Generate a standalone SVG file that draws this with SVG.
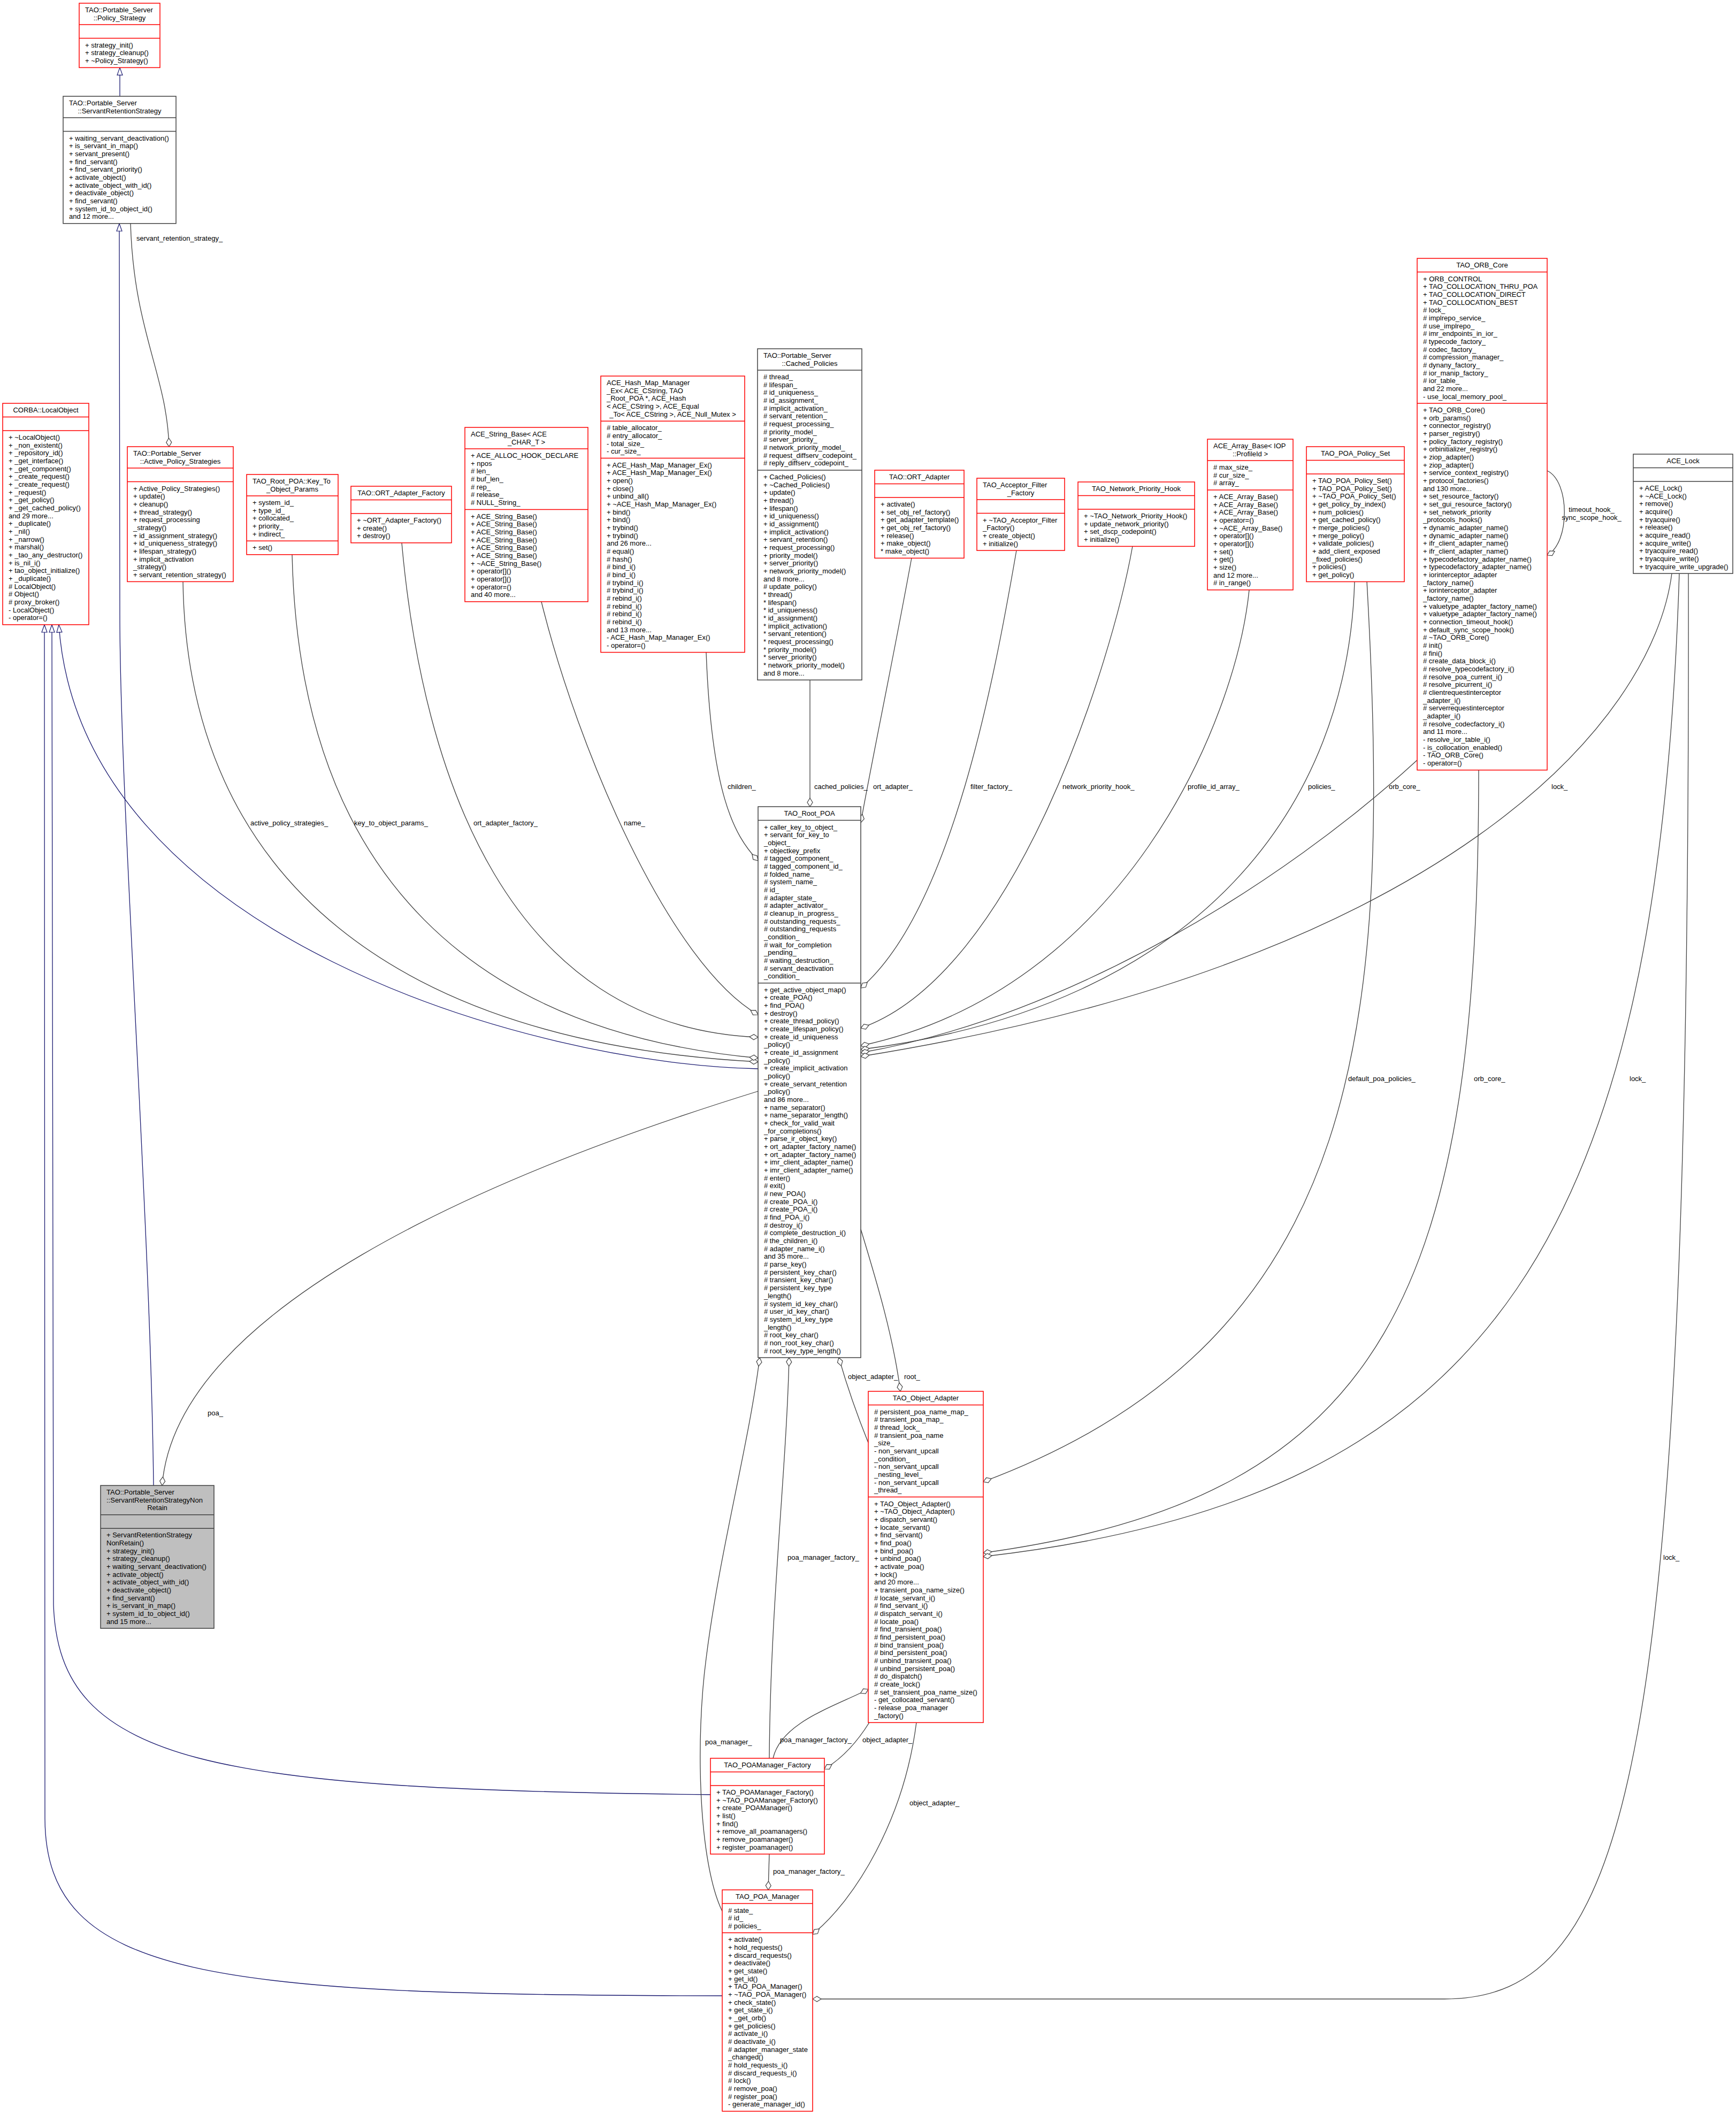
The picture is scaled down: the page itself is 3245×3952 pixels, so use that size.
<svg xmlns="http://www.w3.org/2000/svg" width="3245" height="3952" viewBox="0 0 3245 3952">
<defs>
<style>
text{font-family:"Liberation Sans",Arial,Helvetica,sans-serif;font-size:13px;fill:#000}
.c{text-anchor:middle}
.r{fill:#fff;stroke:#ff0000;stroke-width:1.5}
.k{fill:#fff;stroke:#404040;stroke-width:1.5}
.g{fill:#bfbfbf;stroke:#404040;stroke-width:1.5}
.dr{fill:none;stroke:#ff0000;stroke-width:1.5}
.dk{fill:none;stroke:#404040;stroke-width:1.5}
.e{fill:none;stroke:#404040;stroke-width:1.3}
.b{fill:none;stroke:#191970;stroke-width:1.3}
</style>
<marker id="tri" viewBox="0 0 16 12" refX="15" refY="6" markerWidth="16" markerHeight="12" markerUnits="userSpaceOnUse" orient="auto"><path d="M1,1 L15,6 L1,11 Z" fill="#fff" stroke="#191970" stroke-width="1.2"/></marker>
<marker id="dia" viewBox="0 0 18 12" refX="17" refY="6" markerWidth="18" markerHeight="12" markerUnits="userSpaceOnUse" orient="auto"><path d="M1,6 L9,1 L17,6 L9,11 Z" fill="#fff" stroke="#404040" stroke-width="1.2"/></marker>
</defs>
<rect width="3245" height="3952" fill="#fff"/>
<g id="connectors">
<path class="b" marker-end="url(#tri)" d="M224,180V126.4"/>
<path class="b" marker-end="url(#tri)" d="M287,2777C282,2300 224,1500 224,1150L223,418"/>
<path class="b" marker-end="url(#tri)" d="M1417,1998C1000,1990 150,1750 110,1168"/>
<path class="b" marker-end="url(#tri)" d="M1328,3355C400,3345 110,3300 100,3000L97,1168"/>
<path class="b" marker-end="url(#tri)" d="M1350,3731C400,3730 85,3700 84,3400L83,1168"/>
<path class="e" marker-end="url(#dia)" d="M244,418C250,620 312,700 316,835"/>
<path class="e" marker-end="url(#dia)" d="M342,1087C350,1650 750,1950 1417,1985"/>
<path class="e" marker-end="url(#dia)" d="M546,1037C560,1650 900,1930 1417,1978"/>
<path class="e" marker-end="url(#dia)" d="M751,1015C790,1450 950,1920 1417,1939"/>
<path class="e" marker-end="url(#dia)" d="M1012,1125C1080,1400 1250,1800 1417,1897"/>
<path class="e" marker-end="url(#dia)" d="M1320,1220C1330,1480 1370,1560 1417,1609"/>
<path class="e" marker-end="url(#dia)" d="M1514,1271L1514,1508"/>
<path class="e" marker-end="url(#dia)" d="M1704,1043C1670,1230 1630,1420 1609,1538"/>
<path class="e" marker-end="url(#dia)" d="M1900,1029C1860,1260 1780,1700 1609,1847"/>
<path class="e" marker-end="url(#dia)" d="M2117,1021C2080,1230 1900,1820 1609,1922"/>
<path class="e" marker-end="url(#dia)" d="M2335,1103C2310,1350 2100,1850 1609,1955"/>
<path class="e" marker-end="url(#dia)" d="M2532,1087C2520,1500 2250,1880 1609,1962"/>
<path class="e" marker-end="url(#dia)" d="M2649,1421C2400,1650 2000,1900 1609,1968"/>
<path class="e" marker-end="url(#dia)" d="M3125,1072C3090,1350 2700,1800 1609,1975"/>
<path class="e" marker-end="url(#dia)" d="M2892,880C2935,900 2935,1015 2892,1038"/>
<path class="e" marker-end="url(#dia)" d="M1417,2040C900,2200 330,2450 303,2777"/>
<path class="e" marker-end="url(#dia)" d="M2555,1087C2600,1900 2560,2500 1838,2770"/>
<path class="e" marker-end="url(#dia)" d="M2764,1440C2764,2400 2600,2800 1838,2903"/>
<path class="e" marker-end="url(#dia)" d="M3139,1072C3100,2300 2800,2800 1838,2910"/>
<path class="e" marker-end="url(#dia)" d="M3156,1072C3160,3300 3050,3737 2700,3737L1519,3737"/>
<path class="e" marker-end="url(#dia)" d="M1350,3573C1305,3480 1300,3250 1320,3100C1345,2900 1400,2700 1420,2538"/>
<path class="e" marker-end="url(#dia)" d="M1438,3287C1440,3000 1470,2750 1475,2538"/>
<path class="e" marker-end="url(#dia)" d="M1623,2697C1600,2640 1580,2580 1568,2538"/>
<path class="e" marker-end="url(#dia)" d="M1609,2298C1640,2400 1670,2500 1683,2601"/>
<path class="e" marker-end="url(#dia)" d="M1445,3287C1460,3220 1560,3190 1623,3158"/>
<path class="e" marker-end="url(#dia)" d="M1625,3220C1600,3260 1570,3290 1541,3307"/>
<path class="e" marker-end="url(#dia)" d="M1713,3220C1690,3400 1600,3550 1519,3616"/>
<path class="e" marker-end="url(#dia)" d="M1438,3466L1436,3533"/>
<text x="255" y="450">servant_retention_strategy_</text>
<text x="468" y="1543">active_policy_strategies_</text>
<text x="662" y="1543">key_to_object_params_</text>
<text x="885" y="1543">ort_adapter_factory_</text>
<text x="1166" y="1543">name_</text>
<text x="1360" y="1475">children_</text>
<text x="1522" y="1475">cached_policies_</text>
<text x="1632" y="1475">ort_adapter_</text>
<text x="1814" y="1475">filter_factory_</text>
<text x="1986" y="1475">network_priority_hook_</text>
<text x="2220" y="1475">profile_id_array_</text>
<text x="2445" y="1475">policies_</text>
<text x="2596" y="1475">orb_core_</text>
<text x="2900" y="1475">lock_</text>
<text class="c" x="2975" y="957">timeout_hook_</text>
<text class="c" x="2975" y="972">sync_scope_hook_</text>
<text x="388" y="2646">poa_</text>
<text x="1585" y="2578">object_adapter_</text>
<text x="1690" y="2578">root_</text>
<text x="2520" y="2021">default_poa_policies_</text>
<text x="2755" y="2021">orb_core_</text>
<text x="3046" y="2021">lock_</text>
<text x="1472" y="2916">poa_manager_factory_</text>
<text x="1318" y="3261">poa_manager_</text>
<text x="1458" y="3257">poa_manager_factory_</text>
<text x="1612" y="3257">object_adapter_</text>
<text x="1700" y="3375">object_adapter_</text>
<text x="1445" y="3503">poa_manager_factory_</text>
<text x="3109" y="2916">lock_</text>
</g>
<g id="policy_strategy">
<rect class="r" x="148" y="6" width="151" height="120.4"/>
<path class="dr" d="M148,46.1H299M148,71.6H299"/>
<text x="159" y="23">TAO::Portable_Server</text>
<text class="c" x="223.5" y="37.7">::Policy_Strategy</text>
<text y="88.6"><tspan x="159">+ strategy_init()</tspan><tspan x="159" dy="14.67">+ strategy_cleanup()</tspan><tspan x="159" dy="14.67">+ ~Policy_Strategy()</tspan></text>
</g>
<g id="servant_retention_strategy">
<rect class="k" x="118" y="180" width="211" height="237.8"/>
<path class="dk" d="M118,220.1H329M118,245.6H329"/>
<text x="129" y="197">TAO::Portable_Server</text>
<text class="c" x="223.5" y="211.7">::ServantRetentionStrategy</text>
<text y="262.6"><tspan x="129">+ waiting_servant_deactivation()</tspan><tspan x="129" dy="14.67">+ is_servant_in_map()</tspan><tspan x="129" dy="14.67">+ servant_present()</tspan><tspan x="129" dy="14.67">+ find_servant()</tspan><tspan x="129" dy="14.67">+ find_servant_priority()</tspan><tspan x="129" dy="14.67">+ activate_object()</tspan><tspan x="129" dy="14.67">+ activate_object_with_id()</tspan><tspan x="129" dy="14.67">+ deactivate_object()</tspan><tspan x="129" dy="14.67">+ find_servant()</tspan><tspan x="129" dy="14.67">+ system_id_to_object_id()</tspan><tspan x="129" dy="14.67">and 12 more...</tspan></text>
</g>
<g id="local_object">
<rect class="r" x="5" y="754" width="161" height="413.8"/>
<path class="dr" d="M5,779.5H166M5,804.9H166"/>
<text class="c" x="85.5" y="771">CORBA::LocalObject</text>
<text y="821.9"><tspan x="16">+ ~LocalObject()</tspan><tspan x="16" dy="14.67">+ _non_existent()</tspan><tspan x="16" dy="14.67">+ _repository_id()</tspan><tspan x="16" dy="14.67">+ _get_interface()</tspan><tspan x="16" dy="14.67">+ _get_component()</tspan><tspan x="16" dy="14.67">+ _create_request()</tspan><tspan x="16" dy="14.67">+ _create_request()</tspan><tspan x="16" dy="14.67">+ _request()</tspan><tspan x="16" dy="14.67">+ _get_policy()</tspan><tspan x="16" dy="14.67">+ _get_cached_policy()</tspan><tspan x="16" dy="14.67">and 29 more...</tspan><tspan x="16" dy="14.67">+ _duplicate()</tspan><tspan x="16" dy="14.67">+ _nil()</tspan><tspan x="16" dy="14.67">+ _narrow()</tspan><tspan x="16" dy="14.67">+ marshal()</tspan><tspan x="16" dy="14.67">+ _tao_any_destructor()</tspan><tspan x="16" dy="14.67">+ is_nil_i()</tspan><tspan x="16" dy="14.67">+ tao_object_initialize()</tspan><tspan x="16" dy="14.67">+ _duplicate()</tspan><tspan x="16" dy="14.67"># LocalObject()</tspan><tspan x="16" dy="14.67"># Object()</tspan><tspan x="16" dy="14.67"># proxy_broker()</tspan><tspan x="16" dy="14.67">- LocalObject()</tspan><tspan x="16" dy="14.67">- operator=()</tspan></text>
</g>
<g id="active_policy_strategies">
<rect class="r" x="238" y="835" width="198" height="252.4"/>
<path class="dr" d="M238,875.1H436M238,900.6H436"/>
<text x="249" y="852">TAO::Portable_Server</text>
<text class="c" x="337" y="866.7">::Active_Policy_Strategies</text>
<text y="917.6"><tspan x="249">+ Active_Policy_Strategies()</tspan><tspan x="249" dy="14.67">+ update()</tspan><tspan x="249" dy="14.67">+ cleanup()</tspan><tspan x="249" dy="14.67">+ thread_strategy()</tspan><tspan x="249" dy="14.67">+ request_processing</tspan><tspan x="249" dy="14.67">_strategy()</tspan><tspan x="249" dy="14.67">+ id_assignment_strategy()</tspan><tspan x="249" dy="14.67">+ id_uniqueness_strategy()</tspan><tspan x="249" dy="14.67">+ lifespan_strategy()</tspan><tspan x="249" dy="14.67">+ implicit_activation</tspan><tspan x="249" dy="14.67">_strategy()</tspan><tspan x="249" dy="14.67">+ servant_retention_strategy()</tspan></text>
</g>
<g id="key_to_object_params">
<rect class="r" x="461" y="887" width="171" height="149.8"/>
<path class="dr" d="M461,927.1H632M461,1011.3H632"/>
<text x="472" y="904">TAO_Root_POA::Key_To</text>
<text class="c" x="546.5" y="918.7">_Object_Params</text>
<text y="944.1"><tspan x="472">+ system_id_</tspan><tspan x="472" dy="14.67">+ type_id_</tspan><tspan x="472" dy="14.67">+ collocated_</tspan><tspan x="472" dy="14.67">+ priority_</tspan><tspan x="472" dy="14.67">+ indirect_</tspan></text>
<text x="472" y="1028.3">+ set()</text>
</g>
<g id="ort_adapter_factory">
<rect class="r" x="656" y="909" width="188" height="105.8"/>
<path class="dr" d="M656,934.5H844M656,959.9H844"/>
<text class="c" x="750" y="926">TAO::ORT_Adapter_Factory</text>
<text y="976.9"><tspan x="667">+ ~ORT_Adapter_Factory()</tspan><tspan x="667" dy="14.67">+ create()</tspan><tspan x="667" dy="14.67">+ destroy()</tspan></text>
</g>
<g id="ace_string_base">
<rect class="r" x="869" y="799" width="230" height="325.8"/>
<path class="dr" d="M869,839.1H1099M869,952.6H1099"/>
<text x="880" y="816">ACE_String_Base&lt; ACE</text>
<text class="c" x="984" y="830.7">_CHAR_T &gt;</text>
<text y="856.1"><tspan x="880">+ ACE_ALLOC_HOOK_DECLARE</tspan><tspan x="880" dy="14.67">+ npos</tspan><tspan x="880" dy="14.67"># len_</tspan><tspan x="880" dy="14.67"># buf_len_</tspan><tspan x="880" dy="14.67"># rep_</tspan><tspan x="880" dy="14.67"># release_</tspan><tspan x="880" dy="14.67"># NULL_String_</tspan></text>
<text y="969.6"><tspan x="880">+ ACE_String_Base()</tspan><tspan x="880" dy="14.67">+ ACE_String_Base()</tspan><tspan x="880" dy="14.67">+ ACE_String_Base()</tspan><tspan x="880" dy="14.67">+ ACE_String_Base()</tspan><tspan x="880" dy="14.67">+ ACE_String_Base()</tspan><tspan x="880" dy="14.67">+ ACE_String_Base()</tspan><tspan x="880" dy="14.67">+ ~ACE_String_Base()</tspan><tspan x="880" dy="14.67">+ operator[]()</tspan><tspan x="880" dy="14.67">+ operator[]()</tspan><tspan x="880" dy="14.67">+ operator=()</tspan><tspan x="880" dy="14.67">and 40 more...</tspan></text>
</g>
<g id="ace_hash_map_manager_ex">
<rect class="r" x="1123" y="703" width="269" height="516.5"/>
<path class="dr" d="M1123,787.2H1392M1123,856.6H1392"/>
<text y="720"><tspan x="1134">ACE_Hash_Map_Manager</tspan><tspan x="1134" dy="14.67">_Ex&lt; ACE_CString, TAO</tspan><tspan x="1134" dy="14.67">_Root_POA *, ACE_Hash</tspan><tspan x="1134" dy="14.67">&lt; ACE_CString &gt;, ACE_Equal</tspan></text>
<text class="c" x="1257.5" y="778.7">_To&lt; ACE_CString &gt;, ACE_Null_Mutex &gt;</text>
<text y="804.2"><tspan x="1134"># table_allocator_</tspan><tspan x="1134" dy="14.67"># entry_allocator_</tspan><tspan x="1134" dy="14.67">- total_size_</tspan><tspan x="1134" dy="14.67">- cur_size_</tspan></text>
<text y="873.6"><tspan x="1134">+ ACE_Hash_Map_Manager_Ex()</tspan><tspan x="1134" dy="14.67">+ ACE_Hash_Map_Manager_Ex()</tspan><tspan x="1134" dy="14.67">+ open()</tspan><tspan x="1134" dy="14.67">+ close()</tspan><tspan x="1134" dy="14.67">+ unbind_all()</tspan><tspan x="1134" dy="14.67">+ ~ACE_Hash_Map_Manager_Ex()</tspan><tspan x="1134" dy="14.67">+ bind()</tspan><tspan x="1134" dy="14.67">+ bind()</tspan><tspan x="1134" dy="14.67">+ trybind()</tspan><tspan x="1134" dy="14.67">+ trybind()</tspan><tspan x="1134" dy="14.67">and 26 more...</tspan><tspan x="1134" dy="14.67"># equal()</tspan><tspan x="1134" dy="14.67"># hash()</tspan><tspan x="1134" dy="14.67"># bind_i()</tspan><tspan x="1134" dy="14.67"># bind_i()</tspan><tspan x="1134" dy="14.67"># trybind_i()</tspan><tspan x="1134" dy="14.67"># trybind_i()</tspan><tspan x="1134" dy="14.67"># rebind_i()</tspan><tspan x="1134" dy="14.67"># rebind_i()</tspan><tspan x="1134" dy="14.67"># rebind_i()</tspan><tspan x="1134" dy="14.67"># rebind_i()</tspan><tspan x="1134" dy="14.67">and 13 more...</tspan><tspan x="1134" dy="14.67">- ACE_Hash_Map_Manager_Ex()</tspan><tspan x="1134" dy="14.67">- operator=()</tspan></text>
</g>
<g id="cached_policies">
<rect class="k" x="1416" y="652" width="195" height="619.2"/>
<path class="dk" d="M1416,692.1H1611M1416,879H1611"/>
<text x="1427" y="669">TAO::Portable_Server</text>
<text class="c" x="1513.5" y="683.7">::Cached_Policies</text>
<text y="709.1"><tspan x="1427"># thread_</tspan><tspan x="1427" dy="14.67"># lifespan_</tspan><tspan x="1427" dy="14.67"># id_uniqueness_</tspan><tspan x="1427" dy="14.67"># id_assignment_</tspan><tspan x="1427" dy="14.67"># implicit_activation_</tspan><tspan x="1427" dy="14.67"># servant_retention_</tspan><tspan x="1427" dy="14.67"># request_processing_</tspan><tspan x="1427" dy="14.67"># priority_model_</tspan><tspan x="1427" dy="14.67"># server_priority_</tspan><tspan x="1427" dy="14.67"># network_priority_model_</tspan><tspan x="1427" dy="14.67"># request_diffserv_codepoint_</tspan><tspan x="1427" dy="14.67"># reply_diffserv_codepoint_</tspan></text>
<text y="896"><tspan x="1427">+ Cached_Policies()</tspan><tspan x="1427" dy="14.67">+ ~Cached_Policies()</tspan><tspan x="1427" dy="14.67">+ update()</tspan><tspan x="1427" dy="14.67">+ thread()</tspan><tspan x="1427" dy="14.67">+ lifespan()</tspan><tspan x="1427" dy="14.67">+ id_uniqueness()</tspan><tspan x="1427" dy="14.67">+ id_assignment()</tspan><tspan x="1427" dy="14.67">+ implicit_activation()</tspan><tspan x="1427" dy="14.67">+ servant_retention()</tspan><tspan x="1427" dy="14.67">+ request_processing()</tspan><tspan x="1427" dy="14.67">+ priority_model()</tspan><tspan x="1427" dy="14.67">+ server_priority()</tspan><tspan x="1427" dy="14.67">+ network_priority_model()</tspan><tspan x="1427" dy="14.67">and 8 more...</tspan><tspan x="1427" dy="14.67"># update_policy()</tspan><tspan x="1427" dy="14.67">* thread()</tspan><tspan x="1427" dy="14.67">* lifespan()</tspan><tspan x="1427" dy="14.67">* id_uniqueness()</tspan><tspan x="1427" dy="14.67">* id_assignment()</tspan><tspan x="1427" dy="14.67">* implicit_activation()</tspan><tspan x="1427" dy="14.67">* servant_retention()</tspan><tspan x="1427" dy="14.67">* request_processing()</tspan><tspan x="1427" dy="14.67">* priority_model()</tspan><tspan x="1427" dy="14.67">* server_priority()</tspan><tspan x="1427" dy="14.67">* network_priority_model()</tspan><tspan x="1427" dy="14.67">and 8 more...</tspan></text>
</g>
<g id="ort_adapter">
<rect class="r" x="1635" y="879" width="167" height="164.4"/>
<path class="dr" d="M1635,904.5H1802M1635,929.9H1802"/>
<text class="c" x="1718.5" y="896">TAO::ORT_Adapter</text>
<text y="946.9"><tspan x="1646">+ activate()</tspan><tspan x="1646" dy="14.67">+ set_obj_ref_factory()</tspan><tspan x="1646" dy="14.67">+ get_adapter_template()</tspan><tspan x="1646" dy="14.67">+ get_obj_ref_factory()</tspan><tspan x="1646" dy="14.67">+ release()</tspan><tspan x="1646" dy="14.67">+ make_object()</tspan><tspan x="1646" dy="14.67">* make_object()</tspan></text>
</g>
<g id="acceptor_filter_factory">
<rect class="r" x="1826" y="894" width="164" height="135.1"/>
<path class="dr" d="M1826,934.1H1990M1826,959.6H1990"/>
<text x="1837" y="911">TAO_Acceptor_Filter</text>
<text class="c" x="1908" y="925.7">_Factory</text>
<text y="976.6"><tspan x="1837">+ ~TAO_Acceptor_Filter</tspan><tspan x="1837" dy="14.67">_Factory()</tspan><tspan x="1837" dy="14.67">+ create_object()</tspan><tspan x="1837" dy="14.67">+ initialize()</tspan></text>
</g>
<g id="network_priority_hook">
<rect class="r" x="2015" y="901" width="218" height="120.4"/>
<path class="dr" d="M2015,926.5H2233M2015,951.9H2233"/>
<text class="c" x="2124" y="918">TAO_Network_Priority_Hook</text>
<text y="968.9"><tspan x="2026">+ ~TAO_Network_Priority_Hook()</tspan><tspan x="2026" dy="14.67">+ update_network_priority()</tspan><tspan x="2026" dy="14.67">+ set_dscp_codepoint()</tspan><tspan x="2026" dy="14.67">+ initialize()</tspan></text>
</g>
<g id="ace_array_base">
<rect class="r" x="2257" y="821" width="160" height="281.8"/>
<path class="dr" d="M2257,861.1H2417M2257,916H2417"/>
<text x="2268" y="838">ACE_Array_Base&lt; IOP</text>
<text class="c" x="2337" y="852.7">::ProfileId &gt;</text>
<text y="878.1"><tspan x="2268"># max_size_</tspan><tspan x="2268" dy="14.67"># cur_size_</tspan><tspan x="2268" dy="14.67"># array_</tspan></text>
<text y="933"><tspan x="2268">+ ACE_Array_Base()</tspan><tspan x="2268" dy="14.67">+ ACE_Array_Base()</tspan><tspan x="2268" dy="14.67">+ ACE_Array_Base()</tspan><tspan x="2268" dy="14.67">+ operator=()</tspan><tspan x="2268" dy="14.67">+ ~ACE_Array_Base()</tspan><tspan x="2268" dy="14.67">+ operator[]()</tspan><tspan x="2268" dy="14.67">+ operator[]()</tspan><tspan x="2268" dy="14.67">+ set()</tspan><tspan x="2268" dy="14.67">+ get()</tspan><tspan x="2268" dy="14.67">+ size()</tspan><tspan x="2268" dy="14.67">and 12 more...</tspan><tspan x="2268" dy="14.67"># in_range()</tspan></text>
</g>
<g id="poa_policy_set">
<rect class="r" x="2442" y="835" width="183" height="252.5"/>
<path class="dr" d="M2442,860.5H2625M2442,885.9H2625"/>
<text class="c" x="2533.5" y="852">TAO_POA_Policy_Set</text>
<text y="902.9"><tspan x="2453">+ TAO_POA_Policy_Set()</tspan><tspan x="2453" dy="14.67">+ TAO_POA_Policy_Set()</tspan><tspan x="2453" dy="14.67">+ ~TAO_POA_Policy_Set()</tspan><tspan x="2453" dy="14.67">+ get_policy_by_index()</tspan><tspan x="2453" dy="14.67">+ num_policies()</tspan><tspan x="2453" dy="14.67">+ get_cached_policy()</tspan><tspan x="2453" dy="14.67">+ merge_policies()</tspan><tspan x="2453" dy="14.67">+ merge_policy()</tspan><tspan x="2453" dy="14.67">+ validate_policies()</tspan><tspan x="2453" dy="14.67">+ add_client_exposed</tspan><tspan x="2453" dy="14.67">_fixed_policies()</tspan><tspan x="2453" dy="14.67">+ policies()</tspan><tspan x="2453" dy="14.67">+ get_policy()</tspan></text>
</g>
<g id="orb_core">
<rect class="r" x="2649" y="483" width="243" height="956.6"/>
<path class="dr" d="M2649,508.5H2892M2649,754H2892"/>
<text class="c" x="2770.5" y="500">TAO_ORB_Core</text>
<text y="525.5"><tspan x="2660">+ ORB_CONTROL</tspan><tspan x="2660" dy="14.67">+ TAO_COLLOCATION_THRU_POA</tspan><tspan x="2660" dy="14.67">+ TAO_COLLOCATION_DIRECT</tspan><tspan x="2660" dy="14.67">+ TAO_COLLOCATION_BEST</tspan><tspan x="2660" dy="14.67"># lock_</tspan><tspan x="2660" dy="14.67"># implrepo_service_</tspan><tspan x="2660" dy="14.67"># use_implrepo_</tspan><tspan x="2660" dy="14.67"># imr_endpoints_in_ior_</tspan><tspan x="2660" dy="14.67"># typecode_factory_</tspan><tspan x="2660" dy="14.67"># codec_factory_</tspan><tspan x="2660" dy="14.67"># compression_manager_</tspan><tspan x="2660" dy="14.67"># dynany_factory_</tspan><tspan x="2660" dy="14.67"># ior_manip_factory_</tspan><tspan x="2660" dy="14.67"># ior_table_</tspan><tspan x="2660" dy="14.67">and 22 more...</tspan><tspan x="2660" dy="14.67">- use_local_memory_pool_</tspan></text>
<text y="771"><tspan x="2660">+ TAO_ORB_Core()</tspan><tspan x="2660" dy="14.67">+ orb_params()</tspan><tspan x="2660" dy="14.67">+ connector_registry()</tspan><tspan x="2660" dy="14.67">+ parser_registry()</tspan><tspan x="2660" dy="14.67">+ policy_factory_registry()</tspan><tspan x="2660" dy="14.67">+ orbinitializer_registry()</tspan><tspan x="2660" dy="14.67">+ ziop_adapter()</tspan><tspan x="2660" dy="14.67">+ ziop_adapter()</tspan><tspan x="2660" dy="14.67">+ service_context_registry()</tspan><tspan x="2660" dy="14.67">+ protocol_factories()</tspan><tspan x="2660" dy="14.67">and 130 more...</tspan><tspan x="2660" dy="14.67">+ set_resource_factory()</tspan><tspan x="2660" dy="14.67">+ set_gui_resource_factory()</tspan><tspan x="2660" dy="14.67">+ set_network_priority</tspan><tspan x="2660" dy="14.67">_protocols_hooks()</tspan><tspan x="2660" dy="14.67">+ dynamic_adapter_name()</tspan><tspan x="2660" dy="14.67">+ dynamic_adapter_name()</tspan><tspan x="2660" dy="14.67">+ ifr_client_adapter_name()</tspan><tspan x="2660" dy="14.67">+ ifr_client_adapter_name()</tspan><tspan x="2660" dy="14.67">+ typecodefactory_adapter_name()</tspan><tspan x="2660" dy="14.67">+ typecodefactory_adapter_name()</tspan><tspan x="2660" dy="14.67">+ iorinterceptor_adapter</tspan><tspan x="2660" dy="14.67">_factory_name()</tspan><tspan x="2660" dy="14.67">+ iorinterceptor_adapter</tspan><tspan x="2660" dy="14.67">_factory_name()</tspan><tspan x="2660" dy="14.67">+ valuetype_adapter_factory_name()</tspan><tspan x="2660" dy="14.67">+ valuetype_adapter_factory_name()</tspan><tspan x="2660" dy="14.67">+ connection_timeout_hook()</tspan><tspan x="2660" dy="14.67">+ default_sync_scope_hook()</tspan><tspan x="2660" dy="14.67"># ~TAO_ORB_Core()</tspan><tspan x="2660" dy="14.67"># init()</tspan><tspan x="2660" dy="14.67"># fini()</tspan><tspan x="2660" dy="14.67"># create_data_block_i()</tspan><tspan x="2660" dy="14.67"># resolve_typecodefactory_i()</tspan><tspan x="2660" dy="14.67"># resolve_poa_current_i()</tspan><tspan x="2660" dy="14.67"># resolve_picurrent_i()</tspan><tspan x="2660" dy="14.67"># clientrequestinterceptor</tspan><tspan x="2660" dy="14.67">_adapter_i()</tspan><tspan x="2660" dy="14.67"># serverrequestinterceptor</tspan><tspan x="2660" dy="14.67">_adapter_i()</tspan><tspan x="2660" dy="14.67"># resolve_codecfactory_i()</tspan><tspan x="2660" dy="14.67">and 11 more...</tspan><tspan x="2660" dy="14.67">- resolve_ior_table_i()</tspan><tspan x="2660" dy="14.67">- is_collocation_enabled()</tspan><tspan x="2660" dy="14.67">- TAO_ORB_Core()</tspan><tspan x="2660" dy="14.67">- operator=()</tspan></text>
</g>
<g id="ace_lock">
<rect class="k" x="3053" y="849" width="186" height="223.1"/>
<path class="dk" d="M3053,874.5H3239M3053,899.9H3239"/>
<text class="c" x="3146" y="866">ACE_Lock</text>
<text y="916.9"><tspan x="3064">+ ACE_Lock()</tspan><tspan x="3064" dy="14.67">+ ~ACE_Lock()</tspan><tspan x="3064" dy="14.67">+ remove()</tspan><tspan x="3064" dy="14.67">+ acquire()</tspan><tspan x="3064" dy="14.67">+ tryacquire()</tspan><tspan x="3064" dy="14.67">+ release()</tspan><tspan x="3064" dy="14.67">+ acquire_read()</tspan><tspan x="3064" dy="14.67">+ acquire_write()</tspan><tspan x="3064" dy="14.67">+ tryacquire_read()</tspan><tspan x="3064" dy="14.67">+ tryacquire_write()</tspan><tspan x="3064" dy="14.67">+ tryacquire_write_upgrade()</tspan></text>
</g>
<g id="root_poa">
<rect class="k" x="1417" y="1508" width="192" height="1030"/>
<path class="dk" d="M1417,1533.5H1609M1417,1837.7H1609"/>
<text class="c" x="1513" y="1525">TAO_Root_POA</text>
<text y="1550.5"><tspan x="1428">+ caller_key_to_object_</tspan><tspan x="1428" dy="14.67">+ servant_for_key_to</tspan><tspan x="1428" dy="14.67">_object_</tspan><tspan x="1428" dy="14.67">+ objectkey_prefix</tspan><tspan x="1428" dy="14.67"># tagged_component_</tspan><tspan x="1428" dy="14.67"># tagged_component_id_</tspan><tspan x="1428" dy="14.67"># folded_name_</tspan><tspan x="1428" dy="14.67"># system_name_</tspan><tspan x="1428" dy="14.67"># id_</tspan><tspan x="1428" dy="14.67"># adapter_state_</tspan><tspan x="1428" dy="14.67"># adapter_activator_</tspan><tspan x="1428" dy="14.67"># cleanup_in_progress_</tspan><tspan x="1428" dy="14.67"># outstanding_requests_</tspan><tspan x="1428" dy="14.67"># outstanding_requests</tspan><tspan x="1428" dy="14.67">_condition_</tspan><tspan x="1428" dy="14.67"># wait_for_completion</tspan><tspan x="1428" dy="14.67">_pending_</tspan><tspan x="1428" dy="14.67"># waiting_destruction_</tspan><tspan x="1428" dy="14.67"># servant_deactivation</tspan><tspan x="1428" dy="14.67">_condition_</tspan></text>
<text y="1854.7"><tspan x="1428">+ get_active_object_map()</tspan><tspan x="1428" dy="14.67">+ create_POA()</tspan><tspan x="1428" dy="14.67">+ find_POA()</tspan><tspan x="1428" dy="14.67">+ destroy()</tspan><tspan x="1428" dy="14.67">+ create_thread_policy()</tspan><tspan x="1428" dy="14.67">+ create_lifespan_policy()</tspan><tspan x="1428" dy="14.67">+ create_id_uniqueness</tspan><tspan x="1428" dy="14.67">_policy()</tspan><tspan x="1428" dy="14.67">+ create_id_assignment</tspan><tspan x="1428" dy="14.67">_policy()</tspan><tspan x="1428" dy="14.67">+ create_implicit_activation</tspan><tspan x="1428" dy="14.67">_policy()</tspan><tspan x="1428" dy="14.67">+ create_servant_retention</tspan><tspan x="1428" dy="14.67">_policy()</tspan><tspan x="1428" dy="14.67">and 86 more...</tspan><tspan x="1428" dy="14.67">+ name_separator()</tspan><tspan x="1428" dy="14.67">+ name_separator_length()</tspan><tspan x="1428" dy="14.67">+ check_for_valid_wait</tspan><tspan x="1428" dy="14.67">_for_completions()</tspan><tspan x="1428" dy="14.67">+ parse_ir_object_key()</tspan><tspan x="1428" dy="14.67">+ ort_adapter_factory_name()</tspan><tspan x="1428" dy="14.67">+ ort_adapter_factory_name()</tspan><tspan x="1428" dy="14.67">+ imr_client_adapter_name()</tspan><tspan x="1428" dy="14.67">+ imr_client_adapter_name()</tspan><tspan x="1428" dy="14.67"># enter()</tspan><tspan x="1428" dy="14.67"># exit()</tspan><tspan x="1428" dy="14.67"># new_POA()</tspan><tspan x="1428" dy="14.67"># create_POA_i()</tspan><tspan x="1428" dy="14.67"># create_POA_i()</tspan><tspan x="1428" dy="14.67"># find_POA_i()</tspan><tspan x="1428" dy="14.67"># destroy_i()</tspan><tspan x="1428" dy="14.67"># complete_destruction_i()</tspan><tspan x="1428" dy="14.67"># the_children_i()</tspan><tspan x="1428" dy="14.67"># adapter_name_i()</tspan><tspan x="1428" dy="14.67">and 35 more...</tspan><tspan x="1428" dy="14.67"># parse_key()</tspan><tspan x="1428" dy="14.67"># persistent_key_char()</tspan><tspan x="1428" dy="14.67"># transient_key_char()</tspan><tspan x="1428" dy="14.67"># persistent_key_type</tspan><tspan x="1428" dy="14.67">_length()</tspan><tspan x="1428" dy="14.67"># system_id_key_char()</tspan><tspan x="1428" dy="14.67"># user_id_key_char()</tspan><tspan x="1428" dy="14.67"># system_id_key_type</tspan><tspan x="1428" dy="14.67">_length()</tspan><tspan x="1428" dy="14.67"># root_key_char()</tspan><tspan x="1428" dy="14.67"># non_root_key_char()</tspan><tspan x="1428" dy="14.67"># root_key_type_length()</tspan></text>
</g>
<g id="object_adapter">
<rect class="r" x="1623" y="2601" width="215" height="619.3"/>
<path class="dr" d="M1623,2626.5H1838M1623,2798.6H1838"/>
<text class="c" x="1730.5" y="2618">TAO_Object_Adapter</text>
<text y="2643.5"><tspan x="1634"># persistent_poa_name_map_</tspan><tspan x="1634" dy="14.67"># transient_poa_map_</tspan><tspan x="1634" dy="14.67"># thread_lock_</tspan><tspan x="1634" dy="14.67"># transient_poa_name</tspan><tspan x="1634" dy="14.67">_size_</tspan><tspan x="1634" dy="14.67">- non_servant_upcall</tspan><tspan x="1634" dy="14.67">_condition_</tspan><tspan x="1634" dy="14.67">- non_servant_upcall</tspan><tspan x="1634" dy="14.67">_nesting_level_</tspan><tspan x="1634" dy="14.67">- non_servant_upcall</tspan><tspan x="1634" dy="14.67">_thread_</tspan></text>
<text y="2815.6"><tspan x="1634">+ TAO_Object_Adapter()</tspan><tspan x="1634" dy="14.67">+ ~TAO_Object_Adapter()</tspan><tspan x="1634" dy="14.67">+ dispatch_servant()</tspan><tspan x="1634" dy="14.67">+ locate_servant()</tspan><tspan x="1634" dy="14.67">+ find_servant()</tspan><tspan x="1634" dy="14.67">+ find_poa()</tspan><tspan x="1634" dy="14.67">+ bind_poa()</tspan><tspan x="1634" dy="14.67">+ unbind_poa()</tspan><tspan x="1634" dy="14.67">+ activate_poa()</tspan><tspan x="1634" dy="14.67">+ lock()</tspan><tspan x="1634" dy="14.67">and 20 more...</tspan><tspan x="1634" dy="14.67">+ transient_poa_name_size()</tspan><tspan x="1634" dy="14.67"># locate_servant_i()</tspan><tspan x="1634" dy="14.67"># find_servant_i()</tspan><tspan x="1634" dy="14.67"># dispatch_servant_i()</tspan><tspan x="1634" dy="14.67"># locate_poa()</tspan><tspan x="1634" dy="14.67"># find_transient_poa()</tspan><tspan x="1634" dy="14.67"># find_persistent_poa()</tspan><tspan x="1634" dy="14.67"># bind_transient_poa()</tspan><tspan x="1634" dy="14.67"># bind_persistent_poa()</tspan><tspan x="1634" dy="14.67"># unbind_transient_poa()</tspan><tspan x="1634" dy="14.67"># unbind_persistent_poa()</tspan><tspan x="1634" dy="14.67"># do_dispatch()</tspan><tspan x="1634" dy="14.67"># create_lock()</tspan><tspan x="1634" dy="14.67"># set_transient_poa_name_size()</tspan><tspan x="1634" dy="14.67">- get_collocated_servant()</tspan><tspan x="1634" dy="14.67">- release_poa_manager</tspan><tspan x="1634" dy="14.67">_factory()</tspan></text>
</g>
<g id="servant_retention_strategy_non_retain">
<rect class="g" x="188" y="2777" width="212" height="267.1"/>
<path class="dk" d="M188,2831.8H400M188,2857.3H400"/>
<text y="2794"><tspan x="199">TAO::Portable_Server</tspan><tspan x="199" dy="14.67">::ServantRetentionStrategyNon</tspan></text>
<text class="c" x="294" y="2823.3">Retain</text>
<text y="2874.3"><tspan x="199">+ ServantRetentionStrategy</tspan><tspan x="199" dy="14.67">NonRetain()</tspan><tspan x="199" dy="14.67">+ strategy_init()</tspan><tspan x="199" dy="14.67">+ strategy_cleanup()</tspan><tspan x="199" dy="14.67">+ waiting_servant_deactivation()</tspan><tspan x="199" dy="14.67">+ activate_object()</tspan><tspan x="199" dy="14.67">+ activate_object_with_id()</tspan><tspan x="199" dy="14.67">+ deactivate_object()</tspan><tspan x="199" dy="14.67">+ find_servant()</tspan><tspan x="199" dy="14.67">+ is_servant_in_map()</tspan><tspan x="199" dy="14.67">+ system_id_to_object_id()</tspan><tspan x="199" dy="14.67">and 15 more...</tspan></text>
</g>
<g id="poamanager_factory">
<rect class="r" x="1328" y="3287" width="213" height="179.1"/>
<path class="dr" d="M1328,3312.5H1541M1328,3337.9H1541"/>
<text class="c" x="1434.5" y="3304">TAO_POAManager_Factory</text>
<text y="3354.9"><tspan x="1339">+ TAO_POAManager_Factory()</tspan><tspan x="1339" dy="14.67">+ ~TAO_POAManager_Factory()</tspan><tspan x="1339" dy="14.67">+ create_POAManager()</tspan><tspan x="1339" dy="14.67">+ list()</tspan><tspan x="1339" dy="14.67">+ find()</tspan><tspan x="1339" dy="14.67">+ remove_all_poamanagers()</tspan><tspan x="1339" dy="14.67">+ remove_poamanager()</tspan><tspan x="1339" dy="14.67">+ register_poamanager()</tspan></text>
</g>
<g id="poa_manager">
<rect class="r" x="1350" y="3533" width="169" height="413.8"/>
<path class="dr" d="M1350,3558.5H1519M1350,3613.3H1519"/>
<text class="c" x="1434.5" y="3550">TAO_POA_Manager</text>
<text y="3575.5"><tspan x="1361"># state_</tspan><tspan x="1361" dy="14.67"># id_</tspan><tspan x="1361" dy="14.67"># policies_</tspan></text>
<text y="3630.3"><tspan x="1361">+ activate()</tspan><tspan x="1361" dy="14.67">+ hold_requests()</tspan><tspan x="1361" dy="14.67">+ discard_requests()</tspan><tspan x="1361" dy="14.67">+ deactivate()</tspan><tspan x="1361" dy="14.67">+ get_state()</tspan><tspan x="1361" dy="14.67">+ get_id()</tspan><tspan x="1361" dy="14.67">+ TAO_POA_Manager()</tspan><tspan x="1361" dy="14.67">+ ~TAO_POA_Manager()</tspan><tspan x="1361" dy="14.67">+ check_state()</tspan><tspan x="1361" dy="14.67">+ get_state_i()</tspan><tspan x="1361" dy="14.67">+ _get_orb()</tspan><tspan x="1361" dy="14.67">+ get_policies()</tspan><tspan x="1361" dy="14.67"># activate_i()</tspan><tspan x="1361" dy="14.67"># deactivate_i()</tspan><tspan x="1361" dy="14.67"># adapter_manager_state</tspan><tspan x="1361" dy="14.67">_changed()</tspan><tspan x="1361" dy="14.67"># hold_requests_i()</tspan><tspan x="1361" dy="14.67"># discard_requests_i()</tspan><tspan x="1361" dy="14.67"># lock()</tspan><tspan x="1361" dy="14.67"># remove_poa()</tspan><tspan x="1361" dy="14.67"># register_poa()</tspan><tspan x="1361" dy="14.67">- generate_manager_id()</tspan></text>
</g>
</svg>
